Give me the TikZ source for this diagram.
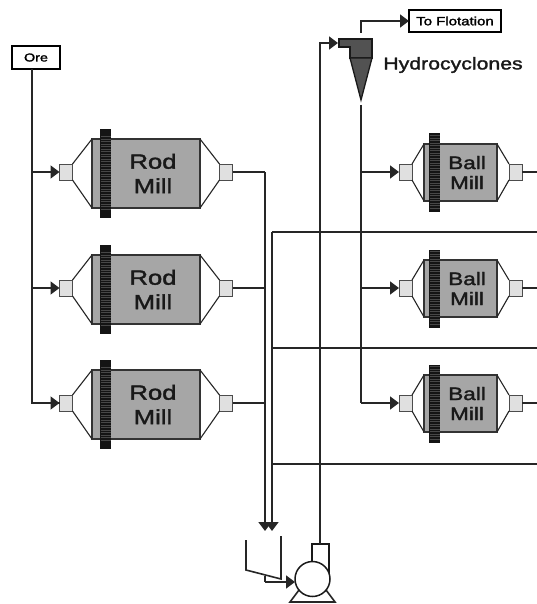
\documentclass[tikz,border=0pt]{standalone}
\usepackage{fontspec}
\setmainfont{Liberation Sans}[FakeBold=1.8,FakeStretch=1.25]
\usetikzlibrary{arrows.meta}
\tikzset{
  x=1pt,y=-1pt,
  ln/.style={draw=black!85,line width=1.6pt,line join=miter},
  flow/.style={ln,-{Triangle[length=9pt,width=13pt]}},
  port/.style={draw=black!70,fill=black!12,line width=0.9pt,minimum width=13pt,minimum height=16pt,inner sep=0pt,outer sep=0pt},
  box/.style={draw=black,fill=white,line width=1.5pt,inner sep=0pt,outer sep=0pt},
  body/.style={draw=black!80,fill=black!35,line width=1.1pt},
  cone/.style={draw=black!85,line width=1.1pt},
  gear/.style={fill=black!92},
  tooth/.style={draw=black!72,line width=0.3pt},
  millname/.style={font=\fontsize{#1}{#1}\selectfont,align=center,text=black!90,inner sep=0pt},
}
% #1 name, #2 port y, #3 bodyL, #4 bodyR, #5 half height, #6 gearL, #7 gearR, #8 gear half height, #9 port offset
\newcommand{\mymill}[9]{%
  \path[body] (#3,#2+\bodyshift-#5) rectangle (#4,#2+\bodyshift+#5);
  \node[port] (#1in) at (#3-#9,#2) {};
  \node[port] (#1out) at (#4+#9,#2) {};
  \draw[cone] (#1in.north east) -- (#3,#2+\bodyshift-#5);
  \draw[cone] (#1in.south east) -- (#3,#2+\bodyshift+#5);
  \draw[cone] (#1out.north west) -- (#4,#2+\bodyshift-#5);
  \draw[cone] (#1out.south west) -- (#4,#2+\bodyshift+#5);
  \fill[gear] (#6,#2+\bodyshift-#8) rectangle (#7,#2+\bodyshift+#8);
  \foreach \d in {-37,-34.5,...,37.5}{\draw[tooth] (#6+0.5,#2+\bodyshift+\d) -- (#7-0.5,#2+\bodyshift+\d);}
}
\begin{document}
\begin{tikzpicture}
\useasboundingbox (0,0) rectangle (537,604);
\fill[white] (0,0) rectangle (537,604);

% Rod mills
\def\bodyshift{1.5}
\foreach \n/\yy in {a/172,b/288,c/403}{
  \mymill{r\n}{\yy}{92}{200}{34.5}{100}{111}{44.5}{26}
  \node[millname=20.5] at (153,\yy+1.5) {Rod\\[4pt]Mill};
}
% Ball mills
\def\bodyshift{0.5}
\foreach \n/\yy in {a/172,b/288,c/403}{
  \mymill{b\n}{\yy}{424}{497}{28.5}{429}{440}{39}{18.5}
  \node[millname=18] at (467,\yy+0.5) {Ball\\[2pt]Mill};
}

% Ore feed
\node[box,minimum width=48pt,minimum height=23pt,font=\fontsize{11.5}{12}\selectfont] (ore) at (36,57.5) {Ore};
\coordinate (oredown) at (32,403);
\draw[ln] (ore.south -| oredown) -- (oredown) -- (rcin.west);
\draw[flow] (oredown) -- (rcin.west);
\draw[flow] (32,0 |- rbin.west) -- (rbin.west);
\draw[flow] (32,0 |- rain.west) -- (rain.west);

% Rod mill discharge
\coordinate (sumA) at (265,531);
\coordinate (sumAtop) at (265,172);
\coordinate (sumB) at (272,531);
\coordinate (sumBtop) at (272,232);
\draw[ln] (raout.east) -- (sumAtop);
\draw[flow] (sumAtop) -- (sumA);
\draw[ln] (rbout.east) -- (265,0 |- rbout.east);
\draw[ln] (rcout.east) -- (265,0 |- rcout.east);

% Ball mill discharge and return
\coordinate (edgeA) at (537,232);
\coordinate (edgeB) at (537,348);
\coordinate (edgeC) at (537,464);
\draw[ln] (edgeA) -- (sumBtop);
\draw[flow] (sumBtop) -- (sumB);
\draw[ln] (edgeB) -- (272,348);
\draw[ln] (edgeC) -- (272,464);
\foreach \n in {a,b,c}{\draw[ln] (b\n out.east) -- (537,0 |- b\n out.east);}

% Sump
\coordinate (sa) at (246,540);
\coordinate (sb) at (246,570);
\coordinate (sc) at (281,579);
\coordinate (sd) at (281,536);
\draw[ln] (sa) -- (sb) -- (sc) -- (sd);

% Pump
\draw[ln] (299,590) -- (290,602) -- (335,602) -- (326,590);
\node[draw=black!90,line width=1.5pt,minimum width=17pt,minimum height=32pt,inner sep=0pt,outer sep=0pt] (disch) at (320.5,560) {};
\node[draw=black!90,line width=1.5pt,circle,minimum size=35pt,inner sep=0pt,outer sep=0pt,fill=white] (pump) at (312.5,579) {};
\coordinate (sout) at (265,576);
\coordinate (sbend) at (265,582);
\draw[ln] (sout) -- (sbend);
\draw[flow] (sbend) -- (pump.west |- sbend);

% Hydrocyclone
\path[draw=black!90,line width=1.3pt,fill=black!68,line join=miter]
  (339,39) -- (372,39) -- (372,58) -- (350,58) -- (350,47) -- (339,47) -- cycle;
\path[draw=black!90,line width=1.3pt,fill=black!68,line join=miter]
  (350,58) -- (372,58) -- (361,100) -- cycle;
\coordinate (hin) at (338,43);
\coordinate (htop) at (361,33);
\coordinate (hunder) at (361,105);
\draw[flow] (disch.north -| 320,0) |- (hin);

% Overflow
\node[box,minimum width=92pt,minimum height=22pt,font=\fontsize{12}{12}\selectfont] (flot) at (455,21) {To Flotation};
\draw[flow] (htop) |- (flot.west);

% Underflow
\coordinate (ubot) at (361,403);
\draw[ln] (hunder) -- (ubot);
\draw[flow] (ubot) -- (bcin.west);
\draw[flow] (361,0 |- bbin.west) -- (bbin.west);
\draw[flow] (361,0 |- bain.west) -- (bain.west);

\node[font=\fontsize{17}{17}\selectfont,inner sep=0pt,text=black!90] (hlabel) at (453,65) {Hydrocyclones};
\end{tikzpicture}
\end{document}
